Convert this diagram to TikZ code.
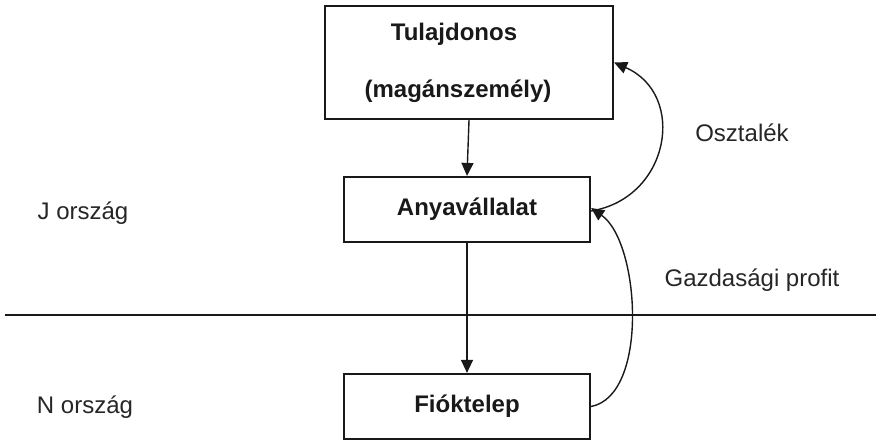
\documentclass[tikz,border=0pt]{standalone}
\usepackage{fontspec}
\setmainfont{Liberation Sans}
\usetikzlibrary{arrows.meta}
\begin{document}
\begin{tikzpicture}[x=1pt,y=-1pt,
  every node/.style={font=\fontsize{24}{28}\selectfont},
  boxnode/.style={draw=black!90, line width=2.2pt, inner sep=0pt, font=\fontsize{24}{28}\selectfont\bfseries, text=black!90},
  flow/.style={line width=1.4pt, draw=black!90, -{Triangle[length=13pt,width=12pt]}},
  lbl/.style={text=black!85}]
\useasboundingbox (0,0) rectangle (876,441);
\node[boxnode, minimum width=288pt, minimum height=113pt, align=center] (top) at (469,62.5) {Tulajdonos\hspace*{30pt}\\[29pt](magánszemély)\hspace*{22pt}};
\node[boxnode, minimum width=246pt, minimum height=65pt] (anya) at (467,209.5) {Anyavállalat};
\node[boxnode, minimum width=246pt, minimum height=65pt] (fiok) at (467,406.5) {Fióktelep};
\coordinate (hl) at (5,315);
\coordinate (hr) at (876,315);
\draw[line width=2pt, black!90] (hl) -- (hr);
\draw[flow] (top.south) -- (anya.north);
\draw[flow] (anya.south) -- (fiok.north);
\draw[flow] ([yshift=-1.5pt]anya.east) .. controls +(79,-13) and +(73,32) .. (top.east);
\draw[flow] (fiok.east) .. controls +(58,-11) and +(49,34) .. ([yshift=1.5pt]anya.east);
\node[lbl] (osz) at (742,133) {Osztalék};
\node[lbl] (gp) at (752,280) {Gazdasági profit};
\node[lbl] (j) at (83,213) {J ország};
\node[lbl] (n) at (85,407) {N ország};
\end{tikzpicture}
\end{document}
